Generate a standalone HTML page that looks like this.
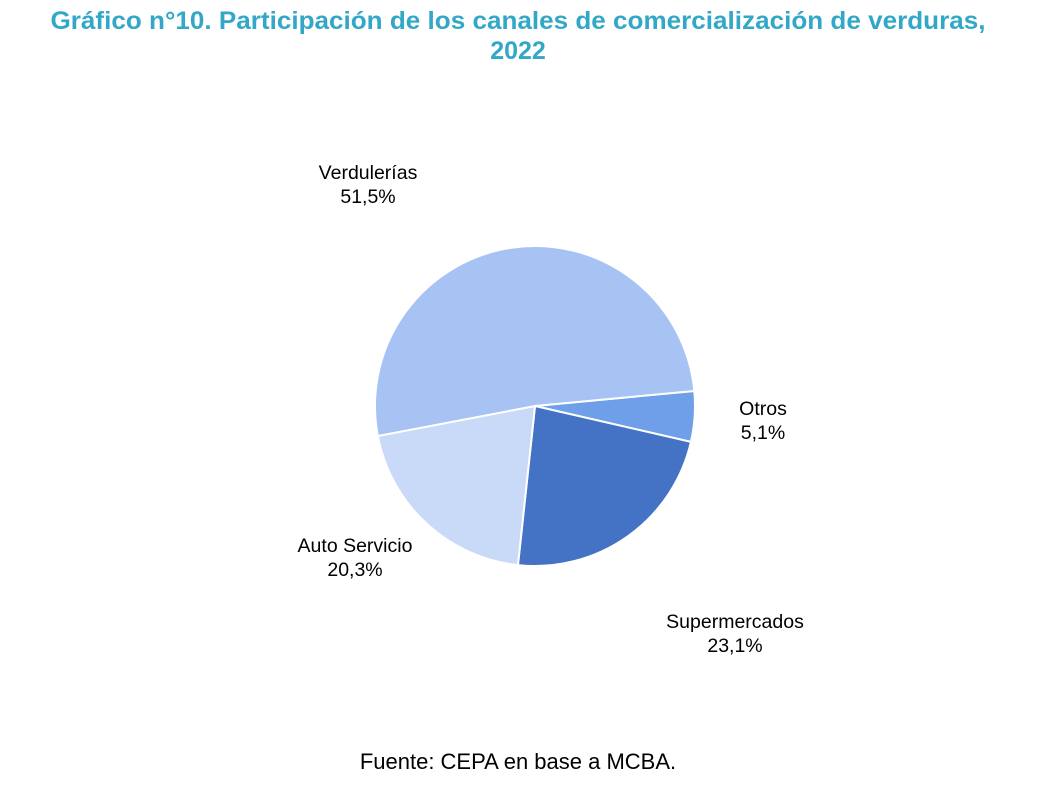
<!DOCTYPE html>
<html><head><meta charset="utf-8"><style>
body{margin:0;background:#fff;width:1057px;height:792px;overflow:hidden;font-family:"Liberation Sans",Arial,sans-serif}
svg{display:block}
</style></head><body>
<svg id="chart" width="1057" height="792">
<text x="518" y="29" text-anchor="middle" font-size="25" font-weight="bold" fill="#33a7c7" textLength="935" lengthAdjust="spacingAndGlyphs">Gráfico n°10. Participación de los canales de comercialización de verduras,</text>
<text x="518" y="59" text-anchor="middle" font-size="25" font-weight="bold" fill="#33a7c7">2022</text>
<g id="slices"></g>
<g id="labels"></g>
<text x="518" y="769" text-anchor="middle" font-size="22" fill="#000">Fuente: CEPA en base a MCBA.</text>
</svg>
<script>
const categories=["Otros","Supermercados","Auto Servicio","Verdulerías"];
const values=[5.1,23.1,20.3,51.5];
const valueLabels=["5,1%","23,1%","20,3%","51,5%"];
const colors=["#6f9fe8","#4472c4","#c9daf8","#a6c3f4"];
const labelPos=[[763,415],[735,628],[355,552],[368,179]];
const cx=535,cy=406,r=160,startDeg=84.6;
const ns="http://www.w3.org/2000/svg";
const gS=document.getElementById("slices"),gL=document.getElementById("labels");
const total=values.reduce((a,b)=>a+b,0);
function pt(d){const a=d*Math.PI/180;return [cx+r*Math.sin(a),cy-r*Math.cos(a)];}
let a0=startDeg;
values.forEach((v,i)=>{
  const sweep=v/total*360,a1=a0+sweep;
  const p0=pt(a0),p1=pt(a1);
  const path=document.createElementNS(ns,"path");
  path.setAttribute("d",`M${cx},${cy}L${p0[0]},${p0[1]}A${r},${r} 0 ${sweep>180?1:0} 1 ${p1[0]},${p1[1]}Z`);
  path.setAttribute("fill",colors[i]);
  path.setAttribute("stroke","#fff");
  path.setAttribute("stroke-width","2");
  
  
  gS.appendChild(path);
  const t=document.createElementNS(ns,"text");
  t.setAttribute("text-anchor","middle");t.setAttribute("font-size","19.5");
  
  
  const [lx,ly]=labelPos[i];
  [categories[i],valueLabels[i]].forEach((s,k)=>{const ts=document.createElementNS(ns,"tspan");ts.setAttribute("x",lx);ts.setAttribute("y",ly+k*24);ts.textContent=s;t.appendChild(ts);});
  gL.appendChild(t);
  a0=a1;
});
</script>
</body></html>
